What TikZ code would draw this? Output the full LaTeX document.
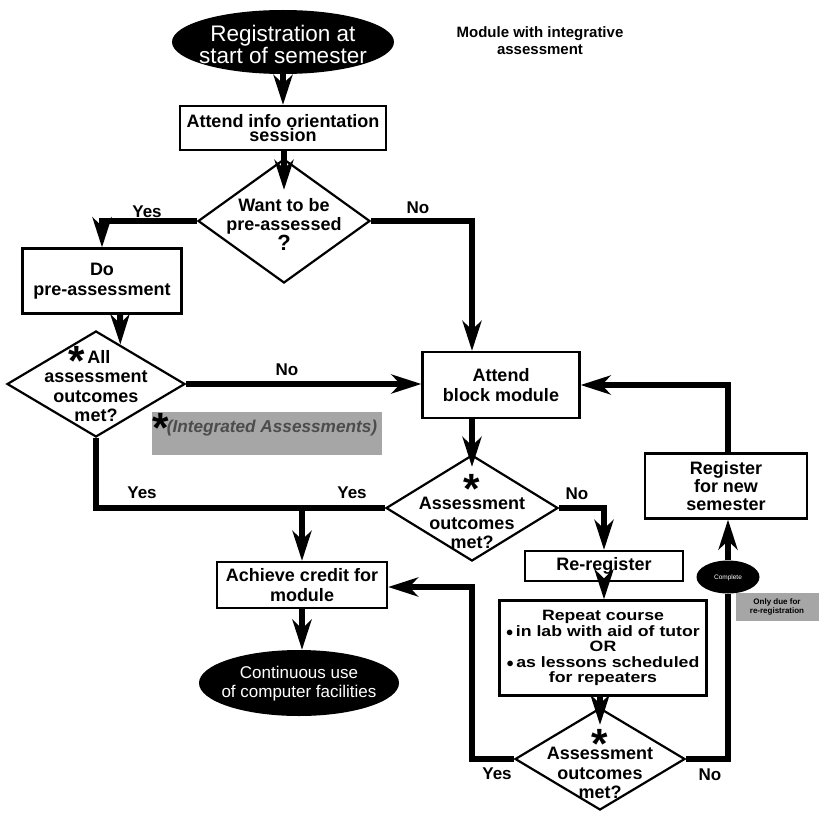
\documentclass[tikz,border=0pt]{standalone}
\usepackage{fontspec}
\setmainfont{Liberation Sans}
\newfontfamily\widefont[FakeStretch=1.18]{Liberation Sans}
\usetikzlibrary{shapes.geometric,arrows.meta,calc}
\newcommand\noteast{\scalebox{2.35}{\bfseries\fontsize{18}{18}\selectfont *}}
\begin{document}
\begin{tikzpicture}[x=1pt,y=-1pt,
  box/.style={draw,line width=2.2pt,fill=white,align=center,inner sep=0pt,
    font=\bfseries\fontsize{18}{19.5}\selectfont},
  dia/.style={draw,line width=2.2pt,diamond,inner sep=0pt,fill=white},
  term/.style={ellipse,fill=black,inner sep=0pt},
  termtext/.style={text=white,align=center,inner sep=0pt},
  diatext/.style={align=center,inner sep=0pt,font=\bfseries\fontsize{18}{19.5}\selectfont},
  starmark/.style={inner sep=0pt},
  flow/.style={line width=6pt},
  arr/.style={flow,-{Stealth[length=30pt,width=19pt,inset=9pt]}},
  lbl/.style={inner sep=0pt,font=\bfseries\fontsize{17}{17}\selectfont},
  note/.style={fill=black!35,draw=none}]
\useasboundingbox (0,0) rectangle (819,813);

% terminals
\node[term,minimum width=222pt,minimum height=64pt] (start) at (283,42) {};
\node[termtext,font=\fontsize{22.5}{20}\selectfont] (starttxt) at (283,44) {Registration at\\start of semester};
\node[term,minimum width=200pt,minimum height=66pt] (cont) at (299,683) {};
\node[termtext,font=\fontsize{17}{19}\selectfont] (conttxt) at (299,684) {Continuous use\\of computer facilities};
\node[term,minimum width=63pt,minimum height=33pt] (done) at (728,577) {};
\node[termtext,font=\fontsize{6.5}{7}\selectfont] (donetxt) at (728,578) {Complete};

% heading
\node[align=center,inner sep=0pt,font=\bfseries\fontsize{15}{17}\selectfont] (title) at (540,41)
  {Module with integrative\\assessment};

% process boxes
\node[box,minimum width=206pt,minimum height=44pt,font=\bfseries\fontsize{18}{14}\selectfont] (orient) at (283,128)
  {Attend info orientation\\session};
\node[box,minimum width=159pt,minimum height=65pt] (pre) at (102,281) {Do\\pre-assessment};
\node[box,minimum width=157pt,minimum height=66pt] (block) at (501,385) {Attend\\block module};
\node[box,minimum width=162pt,minimum height=65pt,font=\bfseries\fontsize{18}{18}\selectfont] (newsem) at (726,486)
  {Register\\for new\\semester};
\node[box,minimum width=158pt,minimum height=30pt] (rereg) at (604,566) {Re-register};
\node[box,minimum width=207pt,minimum height=95pt,font=\widefont\bfseries\fontsize{15}{15.5}\selectfont] (repeat) at (603,648)
  {Repeat course\\$\bullet$\,in lab with aid of tutor\\OR\\$\bullet$\,as lessons scheduled\\for repeaters};
\node[box,minimum width=170pt,minimum height=46pt] (credit) at (302,585) {Achieve credit for\\module};

% decisions
\node[dia,minimum width=172pt,minimum height=124pt] (want) at (284,221) {};
\node[diatext] (wanttxt) at (284,224) {Want to be\\pre-assessed\\{\fontsize{22}{22}\selectfont ?}};
\node[dia,minimum width=178pt,minimum height=106pt] (allmet) at (96,384) {};
\node[diatext] (allmettxt) at (96,386) {\hspace*{6pt}All\\assessment\\outcomes\\met?};
\node[starmark] (allmetast) at (77,361) {\noteast};
\node[dia,minimum width=172pt,minimum height=106pt] (met1) at (472,508) {};
\node[diatext] (met1txt) at (472,523) {Assessment\\outcomes\\met?};
\node[starmark] (met1ast) at (472,489) {\noteast};
\node[dia,minimum width=170pt,minimum height=102pt] (met2) at (600,759) {};
\node[diatext] (met2txt) at (600,773) {Assessment\\outcomes\\met?};
\node[starmark] (met2ast) at (600,744) {\noteast};

% shaded notes
\fill[note] (152,412) rectangle (382,455);
\node[starmark] (iaast) at (161,428) {\noteast};
\node[inner sep=0pt,text=black!70,font=\bfseries\itshape\fontsize{17.2}{17}\selectfont] (notetxt) at (272,428)
  {(Integrated Assessments)};
\fill[note] (736,593) rectangle (819,621);
\node[inner sep=0pt,align=center,font=\bfseries\fontsize{8}{9}\selectfont] (duetxt) at (777,607)
  {Only due for\\re-registration};

% connectors
\coordinate (loop) at (472,587);
\draw[arr] (start.south) -- (start.south |- orient.north);
\draw[arr] (orient.south -| want.north) -- ($(want.north)+(0,32)$);
\draw[arr] (want.west) -| (pre.north);
\draw[arr] (want.east) -| ([xshift=-29pt]block.north);
\draw[arr] ([xshift=18pt]pre.south) -- ($(allmet.north)!0.27!(allmet.east)$);
\draw[arr] (allmet.east) -- (allmet.east -| block.west);
\draw[flow] (allmet.south) |- (met1.west);
\draw[arr] (credit.north |- met1.west) -- (credit.north);
\draw[arr] ([xshift=-29pt]block.south) -- ($(met1.north)+(0,13)$);
\draw[arr] (met1.east) -| (rereg.north);
\draw[arr] (rereg.south) -- (rereg.south |- repeat.north);
\draw[arr] (met2.north |- repeat.south) -- ($(met2.north)+(0,18)$);
\draw[arr] (met2.west) -| (loop) -- (loop -| credit.east);
\draw[flow] (met2.east) -| (done.south);
\draw[arr] (done.north) -- (done.north |- newsem.south);
\draw[arr] ([xshift=2pt]newsem.north) |- (block.east);
\draw[arr] (credit.south) -- (credit.south |- cont.north);

% branch labels
\node[lbl] (y1) at (147,212) {Yes};
\node[lbl] (n1) at (418,208) {No};
\node[lbl] (n2) at (287,370) {No};
\node[lbl] (y2) at (142,493) {Yes};
\node[lbl] (y3) at (352,493) {Yes};
\node[lbl] (n3) at (577,494) {No};
\node[lbl] (y4) at (497,774) {Yes};
\node[lbl] (n4) at (710,775) {No};
\end{tikzpicture}
\end{document}
